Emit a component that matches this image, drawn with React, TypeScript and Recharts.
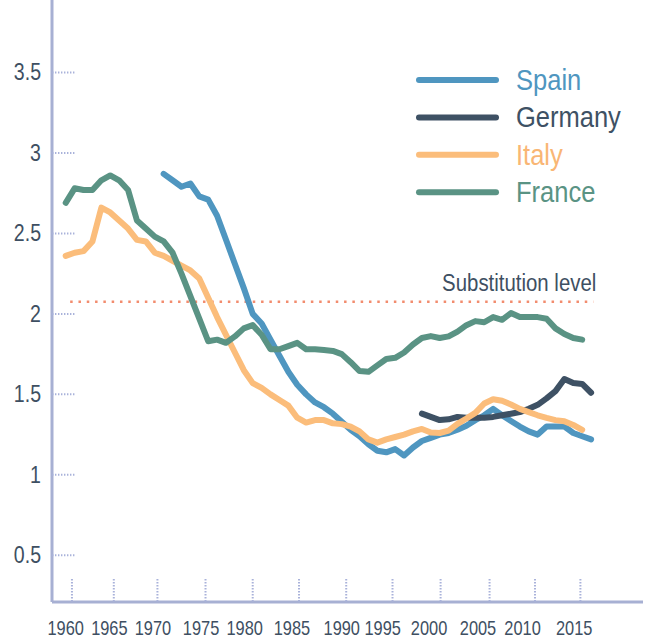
import React from "react";
import { LineChart, Line, XAxis, YAxis, ReferenceLine, Legend } from "recharts";

const FONT = "'Liberation Sans Narrow', 'Liberation Sans', Arial, sans-serif";
const AXIS_COLOR = "#a7b0d3";
const TICK_DOT = "#a9b2da";
const TEXT_COLOR = "#3e4f62";

const years = [
  1960, 1961, 1962, 1963, 1964, 1965, 1966, 1967, 1968, 1969,
  1970, 1971, 1972, 1973, 1974, 1975, 1976, 1977, 1978, 1979,
  1980, 1981, 1982, 1983, 1984, 1985, 1986, 1987, 1988, 1989,
  1990, 1991, 1992, 1993, 1994, 1995, 1996, 1997, 1998, 1999,
  2000, 2001, 2002, 2003, 2004, 2005, 2006, 2007, 2008, 2009,
  2010, 2011, 2012, 2013, 2014, 2015, 2016, 2017, 2018, 2019,
];

const spain = [
  null, null, null, null, null, null, null, null, null, null,
  null, 2.87, 2.83, 2.79, 2.81, 2.73, 2.71, 2.61, 2.46, 2.31,
  2.16, 2.0, 1.94, 1.84, 1.74, 1.64, 1.56, 1.5, 1.45, 1.42,
  1.38, 1.33, 1.28, 1.24, 1.19, 1.15, 1.14, 1.16, 1.12, 1.17,
  1.21, 1.23, 1.25, 1.26, 1.28, 1.305, 1.34, 1.37, 1.41, 1.37,
  1.335, 1.3, 1.27, 1.25, 1.3, 1.3, 1.3, 1.26, 1.24, 1.22,
];

const germany = [
  null, null, null, null, null, null, null, null, null, null,
  null, null, null, null, null, null, null, null, null, null,
  null, null, null, null, null, null, null, null, null, null,
  null, null, null, null, null, null, null, null, null, null,
  1.38, 1.36, 1.34, 1.345, 1.36, 1.355, 1.355, 1.355, 1.36, 1.37,
  1.38, 1.39, 1.41, 1.435, 1.475, 1.52, 1.595, 1.57, 1.565, 1.51,
];

const italy = [
  2.36, 2.38, 2.39, 2.45, 2.66, 2.63, 2.58, 2.53, 2.46, 2.45,
  2.38, 2.36, 2.33, 2.3, 2.27, 2.22, 2.1, 1.98, 1.87, 1.76,
  1.65, 1.57, 1.54, 1.5, 1.465, 1.43, 1.355, 1.325, 1.34, 1.34,
  1.32, 1.315, 1.3, 1.27, 1.22, 1.2, 1.22, 1.235, 1.25, 1.27,
  1.285, 1.263, 1.26, 1.275, 1.317, 1.35, 1.385, 1.443, 1.47, 1.46,
  1.437, 1.41, 1.39, 1.37, 1.354, 1.34, 1.333, 1.31, 1.28, null,
];

const france = [
  2.69, 2.78, 2.77, 2.77, 2.83, 2.86, 2.83, 2.77, 2.58, 2.53,
  2.48, 2.45, 2.38, 2.25, 2.11, 1.97, 1.83, 1.84, 1.82, 1.86,
  1.91, 1.93, 1.87, 1.78, 1.78, 1.8, 1.82, 1.78, 1.78, 1.775,
  1.77, 1.75, 1.7, 1.645, 1.64, 1.68, 1.72, 1.727, 1.76, 1.81,
  1.85, 1.862, 1.85, 1.86, 1.89, 1.93, 1.955, 1.948, 1.98, 1.963,
  2.005, 1.98, 1.98, 1.98, 1.97, 1.91, 1.875, 1.85, 1.84, null,
];

const substitutionLevel = 2.075;

const yTicks = [0.5, 1, 1.5, 2, 2.5, 3, 3.5];
// the original's tick marks and labels sit a little off the data years
const xTickMarks = [1960.7, 1965.4, 1970.3, 1975.7, 1981.0, 1986.2, 1991.5, 1996.7, 2002.1, 2007.6, 2012.7, 2017.8];
const xTickLabelAt = [1960.0, 1964.9, 1969.8, 1975.2, 1980.1, 1985.4, 1991.0, 1995.6, 2000.8, 2006.3, 2011.3, 2017.1];
const xTickLabels = ["1960", "1965", "1970", "1975", "1980", "1985", "1990", "1995", "2000", "2005", "2010", "2015"];

const X_DOMAIN: [number, number] = [1958.46, 2024.83];
const Y_DOMAIN: [number, number] = [0.21, 3.95];
const CHART_W = 653;
const CHART_H = 639;
const MARGIN = { top: 0, right: 10, bottom: 0, left: 0 };
const Y_AXIS_W = 52;
const PX_PER_YEAR = (CHART_W - MARGIN.right - Y_AXIS_W) / (X_DOMAIN[1] - X_DOMAIN[0]);

const series = [
  { key: "spain", name: "Spain", color: "#4f96c0", text: "#4f96c0" },
  { key: "germany", name: "Germany", color: "#3e5164", text: "#3e5164" },
  { key: "italy", name: "Italy", color: "#fbbd7b", text: "#f9b674" },
  { key: "france", name: "France", color: "#5a9384", text: "#5a9384" },
];

const data = years.map((year, i) => ({
  year,
  spain: spain[i],
  germany: germany[i],
  italy: italy[i],
  france: france[i],
}));

// no narrow face installed, so squeeze the regular one like a condensed font
function NarrowText({ x, y, anchor = "start", squeeze = 0.82, size, color, children }: any) {
  return (
    <g transform={`translate(${x},${y}) scale(${squeeze},1)`}>
      <text x={0} y={0} textAnchor={anchor} fill={color} fontSize={size} fontFamily={FONT}>
        {children}
      </text>
    </g>
  );
}

function XTick(props: any) {
  const { x, y, payload } = props;
  const i = xTickMarks.indexOf(payload.value);
  const labelX = x + ((xTickLabelAt[i] ?? payload.value) - payload.value) * PX_PER_YEAR;
  return (
    <g>
      <line x1={x} x2={x} y1={y - 25} y2={y - 2} stroke={TICK_DOT} strokeWidth={2} strokeDasharray="1.4 1.6" />
      <NarrowText x={labelX} y={y + 31} anchor="middle" size={20} color={TEXT_COLOR}>
        {xTickLabels[i]}
      </NarrowText>
    </g>
  );
}

function YTick(props: any) {
  const { x, y, payload } = props;
  return (
    <g>
      <line x1={x + 2} x2={x + 25} y1={y} y2={y} stroke={TICK_DOT} strokeWidth={2} strokeDasharray="1.4 1.6" />
      <NarrowText x={x - 9} y={y + 8} anchor="end" squeeze={0.85} size={23} color={TEXT_COLOR}>
        {payload.value}
      </NarrowText>
    </g>
  );
}

function SubstitutionLabel(props: any) {
  const vb = props.viewBox || {};
  const right = (vb.x ?? 0) + (vb.width ?? 0);
  return (
    <NarrowText x={right + 3} y={(vb.y ?? 0) - 11} anchor="end" squeeze={0.85} size={24} color={TEXT_COLOR}>
      Substitution level
    </NarrowText>
  );
}

function LegendBox() {
  return (
    <svg width={250} height={160}>
      {series.map((s, i) => {
        const cy = 20 + i * 37.4;
        return (
          <g key={s.key}>
            <line x1={19} x2={96} y1={cy} y2={cy} stroke={s.color} strokeWidth={6} strokeLinecap="round" />
            <NarrowText x={116} y={cy + 10} squeeze={0.88} size={29} color={s.text}>
              {s.name}
            </NarrowText>
          </g>
        );
      })}
    </svg>
  );
}

export default function App() {
  return (
    <div style={{ position: "absolute", left: 0, top: 0, width: CHART_W, height: CHART_H, background: "#fff" }}>
      <LineChart width={CHART_W} height={CHART_H} data={data} margin={MARGIN}>
        <XAxis
          type="number"
          dataKey="year"
          domain={X_DOMAIN}
          ticks={xTickMarks}
          interval={0}
          height={37}
          tickSize={0}
          tickLine={false}
          axisLine={{ stroke: AXIS_COLOR, strokeWidth: 3 }}
          tick={<XTick />}
        />
        <YAxis
          type="number"
          domain={Y_DOMAIN}
          ticks={yTicks}
          interval={0}
          width={Y_AXIS_W}
          tickSize={0}
          tickLine={false}
          axisLine={{ stroke: AXIS_COLOR, strokeWidth: 3 }}
          tick={<YTick />}
        />
        <ReferenceLine
          segment={[
            { x: 1960.5, y: substitutionLevel },
            { x: 2019.25, y: substitutionLevel },
          ]}
          stroke="#f28c6e"
          strokeWidth={2.5}
          strokeDasharray="2.5 5.8"
          label={<SubstitutionLabel />}
          ifOverflow="visible"
        />
        <Legend
          layout="vertical"
          align="center"
          verticalAlign="middle"
          wrapperStyle={{ top: 60, left: 400, width: 250, height: 160 }}
          content={() => <LegendBox />}
        />
        {series.map((s) => (
          <Line
            key={s.key}
            type="linear"
            dataKey={s.key}
            name={s.name}
            stroke={s.color}
            strokeWidth={6}
            strokeLinejoin="round"
            strokeLinecap="round"
            dot={false}
            activeDot={false}
            connectNulls={false}
            isAnimationActive={false}
          />
        ))}
      </LineChart>
    </div>
  );
}
